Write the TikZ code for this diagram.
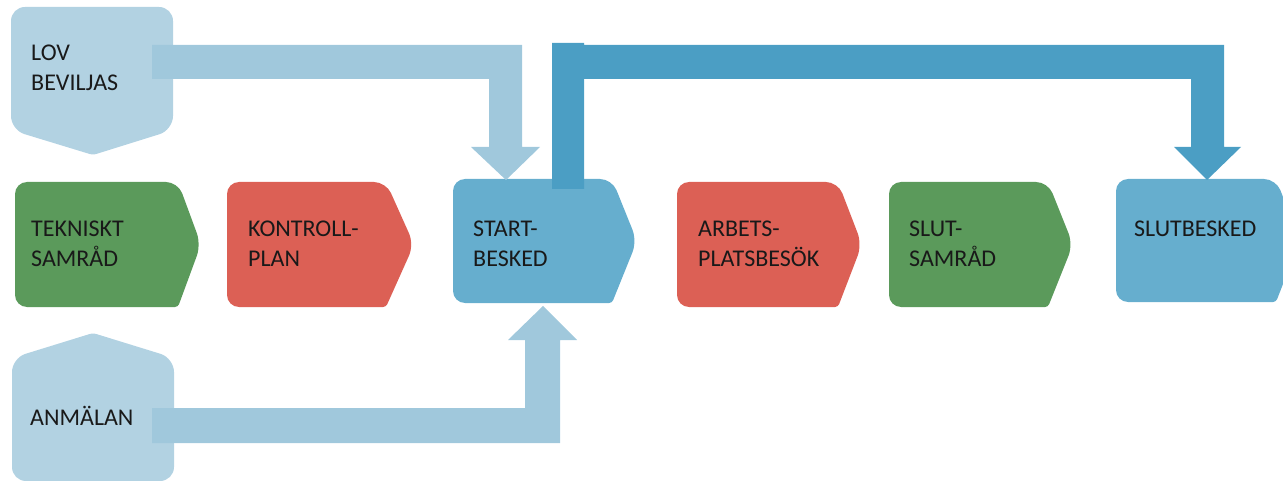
\documentclass[tikz,border=0pt]{standalone}
\usepackage{fontspec}
\setmainfont{Carlito}
\definecolor{lightbox}{HTML}{B2D2E2}
\definecolor{lightarrow}{HTML}{A0C8DC}
\definecolor{darkarrow}{HTML}{4B9EC4}
\definecolor{midblue}{HTML}{66AECE}
\definecolor{stepgreen}{HTML}{5B9A5B}
\definecolor{stepred}{HTML}{DC6055}
\newcommand\chevbox[6]{% colour, x0, y0, x1, xp, y1
  \fill[#1,rounded corners=12pt] (#2,#3) -- (#4,#3) -- (#5,{(#3+#6)/2}) [rounded corners=3pt] -- (#4,#6) [rounded corners=12pt] -- (#2,#6) -- cycle;}
\begin{document}
\begin{tikzpicture}[x=1pt,y=-1pt,
  lbl/.style={anchor=base west,align=left,inner sep=0pt,text=black!90,font=\fontsize{24}{30}\selectfont}]
\useasboundingbox (0,0) rectangle (1283,481);
\clip (0,0) rectangle (1283,481);
% input boxes
\fill[lightbox,rounded corners=14pt] (11,7) -- (173,7) -- (173,130) [rounded corners=3pt] -- (93,155) [rounded corners=14pt] -- (11,130) -- cycle;
\fill[lightbox,rounded corners=14pt] (12,481) -- (12,358) [rounded corners=3pt] -- (93,333) [rounded corners=14pt] -- (174,358) -- (174,481) -- cycle;
% process boxes
\chevbox{stepgreen}{15}{182}{178}{201}{307}
\chevbox{stepred}{227}{182}{386}{414}{307}
\chevbox{midblue}{453}{179}{612}{637}{303}
\chevbox{stepred}{677}{182}{838}{862}{307}
\chevbox{stepgreen}{889}{182}{1048}{1073}{307}
\chevbox{midblue}{1116}{179}{1276}{1300}{302}
% labels (base anchor = baseline of the last line)
\node[lbl] (lov) at (31,91) {LOV\\BEVILJAS};
\node[lbl] (anm) at (30,425) {ANMÄLAN};
\node[lbl] (tek) at (31,267) {TEKNISKT\\SAMRÅD};
\node[lbl] (kon) at (248,267) {KONTROLL-\\PLAN};
\node[lbl] (sta) at (473,267) {START-\\BESKED};
\node[lbl] (arb) at (698,267) {ARBETS-\\PLATSBESÖK};
\node[lbl] (slu) at (909,267) {SLUT-\\SAMRÅD};
\node[lbl] (slb) at (1134,237) {SLUTBESKED};
% block arrows
\fill[lightarrow] (152,45) -- (522,45) -- (522,147) -- (540,147) -- (506,180) -- (471,147) -- (489,147) -- (489,79) -- (152,79) -- cycle;
\fill[lightarrow] (152,408) -- (525,408) -- (525,340) -- (508,340) -- (543,306) -- (577,340) -- (560,340) -- (560,443) -- (152,443) -- cycle;
\fill[darkarrow] (552,43) -- (584,43) -- (584,45) -- (1224,45) -- (1224,147) -- (1241,147) -- (1207,180) -- (1174,147) -- (1191,147) -- (1191,79) -- (584,79) -- (584,189) -- (552,189) -- cycle;
\end{tikzpicture}
\end{document}
